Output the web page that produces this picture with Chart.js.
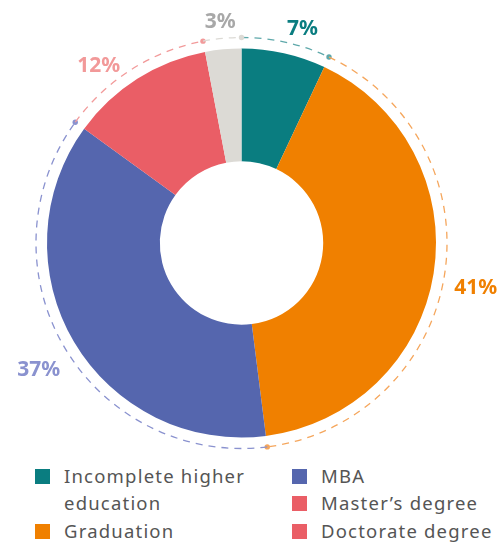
<!DOCTYPE html>
<html lang="en">
<head>
    <meta charset="UTF-8">
    <title>Education level</title>
    <script src="https://cdn.jsdelivr.net/npm/chart.js"></script>
    <style>
        body { margin: 0; background: #fff; }
        .chart-box { position: relative; width: 503px; height: 455px; }
        .legend {
            position: absolute; top: 462px; left: 0; width: 503px;
            font-family: "Noto Sans", sans-serif; font-size: 18.5px; letter-spacing: 1.2px; color: #555;
        }
        .legend .item { position: absolute; line-height: 27px; }
        .legend .box { position: absolute; left: 0; top: 7px; width: 15px; height: 15px; }
        .legend .txt { position: absolute; left: 29px; top: 0; white-space: nowrap; }
    </style>
</head>
<body>
    <div class="chart-box"><canvas id="eduChart" width="503" height="455"></canvas></div>
    <div class="legend" id="legend"></div>

    <script>
        const categories = ['Incomplete higher education', 'Graduation', 'MBA', "Master\u2019s degree", 'Doctorate degree'];
        const shares = [7, 41, 37, 12, 3];
        const sliceColors = ['#0a7d80', '#f08000', '#5566ae', '#ea5e66', '#dcdad5'];
        const labelColors = ['#0a7d80', '#f08000', '#8a92cf', '#f29999', '#a8a8a8'];
        const arcColors = ['#5ea8aa', '#f5a65c', '#8a92cf', '#f29a9a', '#dcdad5'];
        const legendColors = ['#0a7d80', '#f08000', '#5566ae', '#ea5e66', '#ea5e66'];
        // small angle shifts (deg) so the top labels don't crowd each other
        const labelNudge = [3, 0, 0, -5.5, 0];

        // dashed outer arcs, end dots and percentage labels
        const outerRing = {
            id: 'outerRing',
            afterDatasetsDraw(chart) {
                const c = chart.ctx;
                const arcs = chart.getDatasetMeta(0).data;
                arcs.forEach((a, i) => {
                    const r = a.outerRadius + 11;
                    c.save();
                    c.strokeStyle = arcColors[i];
                    c.lineWidth = 1.3;
                    c.setLineDash([7, 6]);
                    c.beginPath();
                    c.arc(a.x, a.y, r, a.startAngle, a.endAngle);
                    c.stroke();
                    c.setLineDash([]);
                    c.fillStyle = arcColors[i];
                    c.beginPath();
                    c.arc(a.x + r * Math.cos(a.endAngle), a.y + r * Math.sin(a.endAngle), 2.7, 0, Math.PI * 2);
                    c.fill();

                    const mid = (a.startAngle + a.endAngle) / 2 + labelNudge[i] * Math.PI / 180;
                    const txt = shares[i] + '%';
                    c.font = 'bold 21px "Noto Sans", sans-serif';
                    const hw = c.measureText(txt).width / 2;
                    const lr = a.outerRadius + 30 + 0.6 * hw * Math.abs(Math.cos(mid));
                    const dy = 3 + 5 * Math.abs(Math.cos(mid));
                    c.fillStyle = labelColors[i];
                    c.textAlign = 'center';
                    c.textBaseline = 'middle';
                    c.fillText(txt, a.x + lr * Math.cos(mid), a.y + lr * Math.sin(mid) + dy);
                    c.restore();
                });
            }
        };

        new Chart(document.getElementById('eduChart'), {
            type: 'doughnut',
            data: {
                labels: categories,
                datasets: [{
                    data: shares,
                    backgroundColor: sliceColors,
                    borderWidth: 0
                }]
            },
            options: {
                responsive: false,
                animation: false,
                cutout: '42%',
                layout: { padding: { left: 47, right: 67, top: 48, bottom: 17 } },
                plugins: { legend: { display: false }, tooltip: { enabled: false } }
            },
            plugins: [outerRing]
        });

        // legend in two columns
        const legendPos = [[35, 0], [35, 55], [292, 0], [292, 27], [292, 55]];
        const legendText = ['Incomplete higher<br>education', 'Graduation', 'MBA', "Master\u2019s degree", 'Doctorate degree'];
        const lg = document.getElementById('legend');
        categories.forEach((name, i) => {
            const d = document.createElement('div');
            d.className = 'item';
            d.style.left = legendPos[i][0] + 'px';
            d.style.top = legendPos[i][1] + 'px';
            d.innerHTML = '<span class="box" style="background:' + legendColors[i] + '"></span><span class="txt">' + legendText[i] + '</span>';
            lg.appendChild(d);
        });
    </script>
</body>
</html>
